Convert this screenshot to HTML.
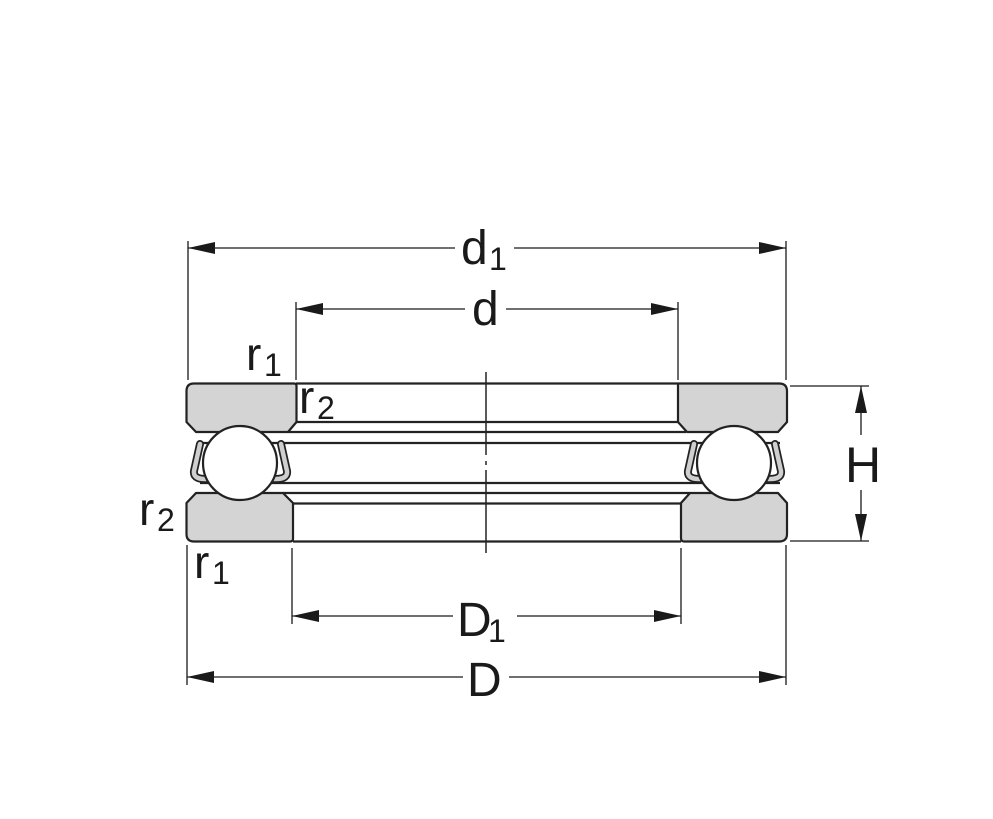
<!DOCTYPE html>
<html><head><meta charset="utf-8"><style>
html,body{margin:0;padding:0;background:#fff;}
svg{display:block;}
text{font-family:"Liberation Sans","DejaVu Sans",sans-serif;fill:#1a1a1a;}
</style></head><body>
<svg width="993" height="819" viewBox="0 0 993 819" xmlns="http://www.w3.org/2000/svg">
<defs>
<marker id="a" viewBox="0 0 27 12" refX="27" refY="6" markerWidth="27" markerHeight="12" markerUnits="userSpaceOnUse" orient="auto-start-reverse">
<path d="M0,0 L27,6 L0,12 Z" fill="#1a1a1a"/></marker>
</defs>
<g stroke="#1a1a1a" stroke-width="1.3" fill="none">
<!-- extension lines -->
<line x1="188" y1="241" x2="188" y2="380"/>
<line x1="786" y1="241" x2="786" y2="380"/>
<line x1="296" y1="302" x2="296" y2="380"/>
<line x1="678" y1="302" x2="678" y2="380"/>
<line x1="292" y1="548" x2="292" y2="624"/>
<line x1="681" y1="548" x2="681" y2="624"/>
<line x1="187" y1="545" x2="187" y2="685"/>
<line x1="786" y1="545" x2="786" y2="685"/>
<line x1="790" y1="386" x2="869" y2="386"/>
<line x1="790" y1="541" x2="869" y2="541"/>
<!-- dim lines -->
<line x1="188" y1="248" x2="455" y2="248" marker-start="url(#a)"/>
<line x1="514" y1="248" x2="786" y2="248" marker-end="url(#a)"/>
<line x1="296" y1="309" x2="465" y2="309" marker-start="url(#a)"/>
<line x1="506" y1="309" x2="678" y2="309" marker-end="url(#a)"/>
<line x1="292" y1="616" x2="453" y2="616" marker-start="url(#a)"/>
<line x1="517" y1="616" x2="681" y2="616" marker-end="url(#a)"/>
<line x1="187" y1="677" x2="463" y2="677" marker-start="url(#a)"/>
<line x1="509" y1="677" x2="786" y2="677" marker-end="url(#a)"/>
<line x1="861" y1="386" x2="861" y2="435" marker-start="url(#a)"/>
<line x1="861" y1="490" x2="861" y2="541" marker-end="url(#a)"/>
</g>
<g stroke="#222" stroke-width="2.2" fill="none">
<line x1="296" y1="383.5" x2="678" y2="383.5"/>
<line x1="296" y1="422" x2="678" y2="422"/>
<line x1="288" y1="432" x2="686" y2="432"/>
<line x1="200" y1="443" x2="780" y2="443"/>
<line x1="200" y1="483" x2="780" y2="483"/>
<line x1="283" y1="493" x2="690" y2="493"/>
<line x1="293" y1="503.5" x2="681" y2="503.5"/>
<line x1="293" y1="541.5" x2="681" y2="541.5"/>
</g>
<line x1="486" y1="372" x2="486" y2="455" stroke="#222" stroke-width="1.5"/>
<line x1="486" y1="461" x2="486" y2="465" stroke="#222" stroke-width="1.5"/>
<line x1="486" y1="470" x2="486" y2="553" stroke="#222" stroke-width="1.5"/>
<!-- cages -->
<g fill="none" stroke-linejoin="round" stroke-linecap="round">
<path d="M200,444 L194,471 Q193,479 205,479 L220,479 M281,444 L287,471 Q288,479 276,479 L262,479" stroke="#222" stroke-width="8"/>
<path d="M200,444 L194,471 Q193,479 205,479 L220,479 M281,444 L287,471 Q288,479 276,479 L262,479" stroke="#cfcfcf" stroke-width="4.5"/>
<path d="M694,444 L688,471 Q687,479 699,479 L714,479 M775,444 L781,471 Q782,479 770,479 L756,479" stroke="#222" stroke-width="8"/>
<path d="M694,444 L688,471 Q687,479 699,479 L714,479 M775,444 L781,471 Q782,479 770,479 L756,479" stroke="#cfcfcf" stroke-width="4.5"/>
</g>
<!-- washers -->
<g fill="#d4d4d4" stroke="#222" stroke-width="2.2" stroke-linejoin="round">
<path d="M194,383.5 L294,383.5 Q296.5,383.5 296.5,386 L296.5,422 L288,432 L196,432 L186.5,422 L186.5,391 Q186.5,383.5 194,383.5 Z"/>
<path d="M678,383.5 L779,383.5 Q787,383.5 787,391 L787,422 L778,432 L687,432 L678,422 Z"/>
<path d="M196,493 L283,493 L293,503 L293,539 Q293,541.5 290,541.5 L194,541.5 Q186.5,541.5 186.5,534 L186.5,503 Z"/>
<path d="M690,493 L778,493 L787,503 L787,534 Q787,541.5 779,541.5 L684,541.5 Q681,541.5 681,538 L681,503 Z"/>
</g>
<!-- balls -->
<circle cx="240" cy="463" r="37" fill="#fff" stroke="#222" stroke-width="2.2"/>
<circle cx="734" cy="463" r="37" fill="#fff" stroke="#222" stroke-width="2.2"/>
<!-- labels -->
<text x="461" y="264" font-size="48">d</text><text x="489" y="270" font-size="32">1</text>
<text x="472" y="325" font-size="48">d</text>
<text x="457" y="636" font-size="48">D</text><text x="488" y="642" font-size="32">1</text>
<text x="467" y="696" font-size="48">D</text>
<text x="845" y="482" font-size="50">H</text>
<text x="246" y="370" font-size="46">r</text><text x="264" y="376" font-size="32">1</text>
<text x="299" y="413" font-size="46">r</text><text x="317" y="419" font-size="32">2</text>
<text x="139" y="525" font-size="46">r</text><text x="157" y="531" font-size="32">2</text>
<text x="194" y="578" font-size="46">r</text><text x="212" y="584" font-size="32">1</text>
</svg>
</body></html>
